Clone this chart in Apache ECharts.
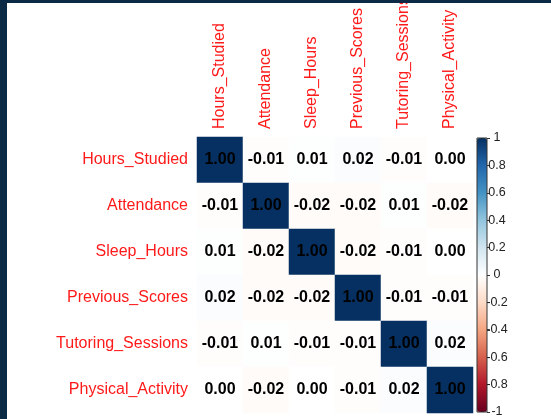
<!DOCTYPE html>
<html>
<head>
<meta charset="utf-8">
<script src="https://cdn.jsdelivr.net/npm/echarts@6/dist/echarts.min.js"></script>
<style>
  html, body { margin: 0; padding: 0; width: 551px; height: 419px; background: #0b2a45; overflow: hidden; }
  #chart { position: absolute; left: 7px; top: 3px; width: 544px; height: 416px; background: #ffffff; }
</style>
</head>
<body>
<div id="chart"></div>
<script>
// Variables (rows top-to-bottom, columns left-to-right)
const variables = ['Hours_Studied', 'Attendance', 'Sleep_Hours', 'Previous_Scores', 'Tutoring_Sessions', 'Physical_Activity'];

// Correlation matrix rows
const rowHoursStudied     = [1.00, -0.01,  0.01,  0.02, -0.01,  0.00];
const rowAttendance       = [-0.01, 1.00, -0.02, -0.02,  0.01, -0.02];
const rowSleepHours       = [0.01, -0.02,  1.00, -0.02, -0.01,  0.00];
const rowPreviousScores   = [0.02, -0.02, -0.02,  1.00, -0.01, -0.01];
const rowTutoringSessions = [-0.01, 0.01, -0.01, -0.01,  1.00,  0.02];
const rowPhysicalActivity = [0.00, -0.02,  0.00, -0.01,  0.02,  1.00];

// Colour bar tick labels (bottom to top)
const colorbarTicks = ['-1', '-0.8', '-0.6', '-0.4', '-0.2', '0', '0.2', '0.4', '0.6', '0.8', '1'];

// RdBu palette (low to high)
const rdbu = ['#67001F', '#B2182B', '#D6604D', '#F4A582', '#FDDBC7', '#FFFFFF', '#D1E5F0', '#92C5DE', '#4393C3', '#2166AC', '#053061'];

const matrix = [rowHoursStudied, rowAttendance, rowSleepHours, rowPreviousScores, rowTutoringSessions, rowPhysicalActivity];
const data = [];
matrix.forEach((row, r) => row.forEach((v, c) => data.push([c, r, v])));

const FONT = "'Liberation Sans', Arial, sans-serif";
const chart = echarts.init(document.getElementById('chart'), null, { renderer: 'canvas' });

chart.setOption({
  animation: false,
  backgroundColor: '#ffffff',
  grid: [
    { left: 190, top: 134, width: 276, height: 276, outerBoundsMode: 'none', containLabel: false },
    { left: 470, top: 135, width: 10, height: 274, show: true, z: 10, outerBoundsMode: 'none', containLabel: false,
      backgroundColor: 'transparent', borderColor: '#333333', borderWidth: 1 }
  ],
  xAxis: [
    {
      type: 'category', gridIndex: 0, data: variables, position: 'top',
      axisLine: { show: false }, axisTick: { show: false }, splitLine: { show: false },
      axisLabel: { rotate: -90, margin: 8, color: '#ff1a1a', fontSize: 16, fontFamily: FONT, interval: 0 }
    },
    { type: 'category', gridIndex: 1, data: ['c'], show: false }
  ],
  yAxis: [
    {
      type: 'category', gridIndex: 0, data: variables, inverse: true,
      axisLine: { show: false }, axisTick: { show: false }, splitLine: { show: false },
      axisLabel: { margin: 9, color: '#ff1a1a', fontSize: 16, fontFamily: FONT, interval: 0 }
    },
    {
      type: 'category', gridIndex: 1, data: colorbarTicks, position: 'right', boundaryGap: false,
      axisLine: { show: false },
      axisTick: { show: true, length: 3, lineStyle: { color: '#333333' }, interval: 0 },
      splitLine: { show: false },
      axisLabel: { margin: 10, align: 'center', color: '#222222', fontSize: 12.5, fontFamily: FONT, interval: 0 }
    }
  ],
  visualMap: {
    type: 'continuous', min: -1, max: 1, seriesIndex: 0, dimension: 2,
    orient: 'vertical', left: 470, top: 135, itemWidth: 10, itemHeight: 274,
    padding: 0, calculable: false, hoverLink: false, text: null,
    inRange: { color: rdbu }
  },
  series: [{
    type: 'heatmap', xAxisIndex: 0, yAxisIndex: 0, data: data,
    itemStyle: { borderWidth: 0 },
    label: {
      show: true, color: '#000000', fontSize: 16, fontWeight: 'bold', fontFamily: FONT,
      formatter: p => p.value[2].toFixed(2)
    },
    emphasis: { disabled: true }
  }]
});
</script>
</body>
</html>
